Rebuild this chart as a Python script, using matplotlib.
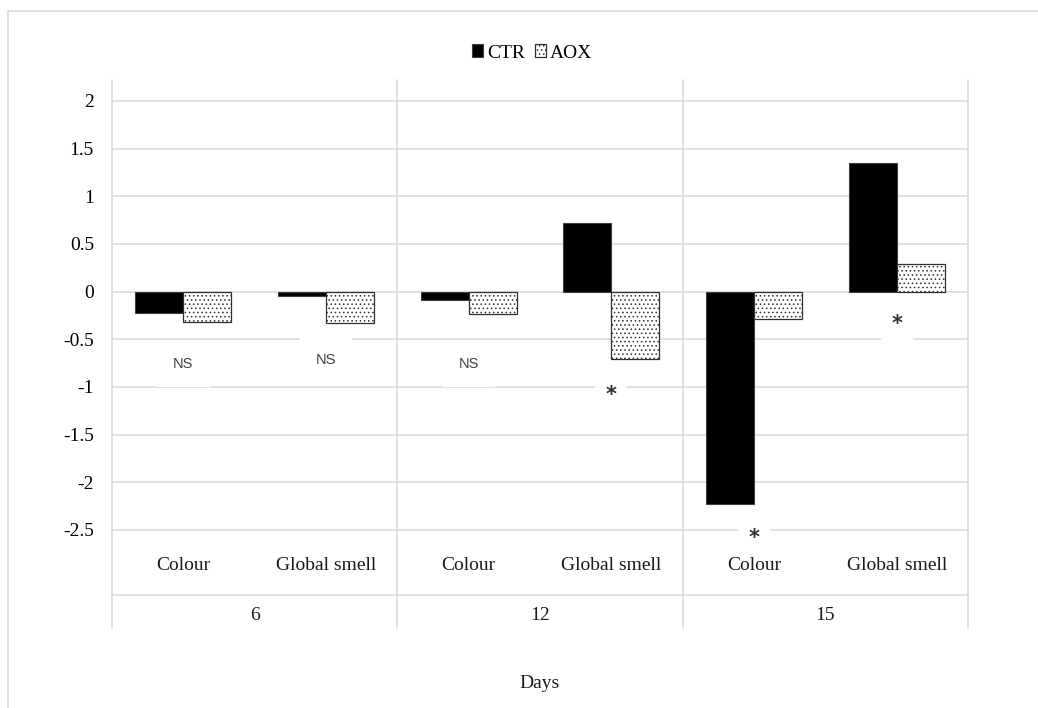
import matplotlib.pyplot as plt
from matplotlib.patches import Patch, Rectangle
from matplotlib.lines import Line2D
import matplotlib.transforms as mtransforms

# sensory scores per attribute, grouped by storage day
days = ["6", "12", "15"]
attributes = ["Colour", "Global smell"] * 3
ctr = [-0.22, -0.045, -0.087, 0.716, -2.228, 1.347]
aox = [-0.316, -0.333, -0.238, -0.705, -0.29, 0.288]

# significance marks under each attribute
sig_text = ["NS", "NS", "NS", "*", "*", "*"]
sig_y = [-0.76, -0.72, -0.76, -1.08, -2.58, -0.34]

y_ticks = [2, 1.5, 1, 0.5, 0, -0.5, -1, -1.5, -2, -2.5]
y_tick_labels = ["2", "1.5", "1", "0.5", "0", "-0.5", "-1", "-1.5", "-2", "-2.5"]

GRID = "#d9d9d9"
SERIF = "Liberation Serif"

W, H = 1038, 708
fig = plt.figure(figsize=(W / 100, H / 100), dpi=100)

# light frame round the whole chart (cut off at right and bottom)
fig.patches.append(Rectangle((8 / W, -0.1), 1.2, 1 - 11 / H + 0.1,
                             transform=fig.transFigure, fill=False,
                             edgecolor=GRID, linewidth=1.1))

left, right, top, bottom = 112, 968, 80, 530
ax = fig.add_axes([left / W, 1 - bottom / H, (right - left) / W, (bottom - top) / H])

x = list(range(len(attributes)))
bw = 0.336
ax.bar([i - bw / 2 for i in x], ctr, width=bw, color="black",
       edgecolor="#404040", linewidth=0.8, zorder=3)
plt.rcParams["hatch.linewidth"] = 0.6
plt.rcParams["hatch.color"] = "#303030"
ax.bar([i + bw / 2 for i in x], aox, width=bw, color="white", hatch="....",
       edgecolor="#303030", linewidth=0.9, zorder=3)

ax.set_xlim(-0.5, len(attributes) - 0.5)
ax.set_ylim(-2.5, 2.22)
ax.set_yticks(y_ticks)
ax.set_yticklabels(y_tick_labels, fontfamily=SERIF, fontsize=14)
ax.set_xticks([])
ax.tick_params(axis="y", length=0, pad=13)
for s in ["top", "right", "left"]:
    ax.spines[s].set_visible(False)
ax.spines["bottom"].set_color(GRID)
ax.spines["bottom"].set_linewidth(1.1)
for t in y_ticks[:-1]:
    ax.axhline(t, color=GRID, linewidth=1.1, zorder=1)

# multi-level category axis drawn below the plot
trans = mtransforms.blended_transform_factory(ax.transData, ax.transAxes)
ph = bottom - top
row_y = -(595 - bottom) / ph
end_y = -(628 - bottom) / ph
for g in range(len(days) + 1):
    xs = g * 2 - 0.5
    ax.add_line(Line2D([xs, xs], [end_y, 1.0], transform=trans, color=GRID,
                       linewidth=1.1, clip_on=False, zorder=1))
ax.add_line(Line2D([-0.5, len(attributes) - 0.5], [row_y, row_y], transform=trans,
                   color=GRID, linewidth=1.1, clip_on=False))

for i, name in enumerate(attributes):
    ax.text(i, -(566 - bottom) / ph, name, transform=trans, ha="center",
            va="center", fontfamily=SERIF, fontsize=14, color="#1a1a1a", zorder=6)
for g, d in enumerate(days):
    ax.text(g * 2 + 0.5, -(616 - bottom) / ph, d, transform=trans, ha="center",
            va="center", fontfamily=SERIF, fontsize=14, color="#1a1a1a")
ax.text(2.5, -(683 - bottom) / ph, "Days", transform=trans, ha="center",
        va="center", fontfamily=SERIF, fontsize=14, color="#1a1a1a")

# significance labels with white boxes over the gridlines
for i, (s, yv) in enumerate(zip(sig_text, sig_y)):
    if s == "NS":
        ax.text(i, yv, s, ha="center", va="center", fontfamily="Liberation Sans",
                fontsize=10.5, color="#404040", zorder=4,
                bbox=dict(boxstyle="square,pad=1.1", fc="white", ec="none"))
    else:
        ax.text(i, yv, s, ha="center", va="center", fontfamily="DejaVu Sans",
                fontweight="bold", fontsize=15, color="#303030", zorder=4,
                bbox=dict(boxstyle="square,pad=0.5", fc="white", ec="none"))

handles = [Patch(facecolor="black", edgecolor="#404040", linewidth=0.8, label="CTR"),
           Patch(facecolor="white", edgecolor="#303030", hatch="....", linewidth=0.9, label="AOX")]
fig.legend(handles=handles, loc="center", bbox_to_anchor=(532 / W, 1 - 53 / H),
           ncol=2, frameon=False, handlelength=0.6, handleheight=0.6,
           handletextpad=0.2, columnspacing=0.5, prop={"family": SERIF, "size": 14})

fig.savefig("out.png", dpi=100, facecolor="white")
